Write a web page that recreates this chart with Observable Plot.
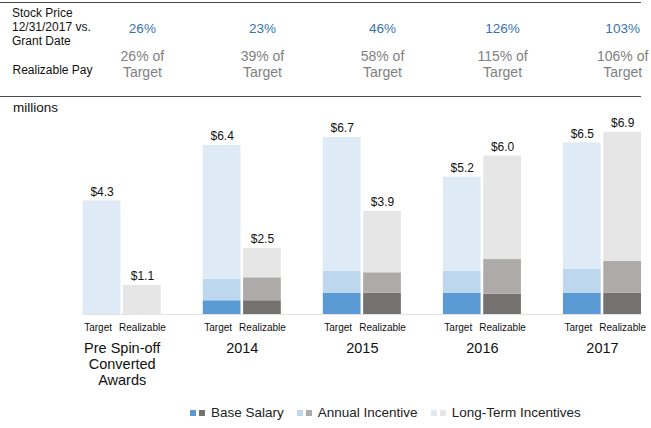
<!DOCTYPE html>
<html>
<head>
<meta charset="utf-8">
<script src="https://cdn.jsdelivr.net/npm/d3@7"></script>
<script src="https://cdn.jsdelivr.net/npm/@observablehq/plot@0.6"></script>
<style>
  html, body { margin: 0; padding: 0; background: #fff; }
  body { font-family: "Liberation Sans", Arial, sans-serif; }
  #page { position: relative; width: 651px; height: 428px; overflow: hidden; }
  #chart { position: absolute; left: 0; top: 0; }
  .hline { position: absolute; left: 0; width: 641px; height: 0; border-top: 1.6px solid #4a4a4a; }
  .lab { position: absolute; color: #111; white-space: pre; }
  #legend { position: absolute; left: 190px; top: 405px; display: flex; align-items: center; font-size: 13.5px; color: #222; }
  .item { display: flex; align-items: center; margin-right: 13px; }
  .sw { width: 6px; height: 6px; display: inline-block; margin-right: 3px; }
  .item span.t { margin-left: 3px; }
</style>
</head>
<body>
<div id="page">
  <div id="chart"></div>
  <div class="hline" style="top:2px"></div>
  <div class="hline" style="top:96px"></div>
  <div class="lab" style="left:12px; top:6px; font-size:12px; line-height:14px;">Stock Price
12/31/2017 vs.
Grant Date</div>
  <div class="lab" style="left:12.5px; top:63px; font-size:12px; line-height:14px;">Realizable Pay</div>
  <div class="lab" style="left:13px; top:100px; font-size:13.5px; line-height:16px;">millions</div>
  <div id="legend"></div>
</div>
<script>
// ---- data ----
const groups = ["Pre Spin-off\nConverted\nAwards", "2014", "2015", "2016", "2017"];
const barTypes = ["Target", "Realizable"];
const components = ["Base Salary", "Annual Incentive", "Long-Term Incentives"];

const stockVsGrant = [26, 23, 46, 126, 103];      // % stock price 12/31/2017 vs grant date
const realizablePctOfTarget = [26, 39, 58, 115, 106];

const targetBase   = [0, 0.52, 0.81, 0.81, 0.81];
const targetAnnual = [0, 0.82, 0.83, 0.83, 0.91];
const targetLTI    = [4.3, 5.06, 5.06, 3.56, 4.78];
const targetTotal  = [4.3, 6.4, 6.7, 5.2, 6.5];

const realBase     = [0, 0.52, 0.81, 0.77, 0.81];
const realAnnual   = [0, 0.87, 0.77, 1.31, 1.20];
const realLTI      = [1.1, 1.11, 2.32, 3.92, 4.89];
const realTotal    = [1.1, 2.5, 3.9, 6.0, 6.9];

const targetColors = ["#5b9bd5", "#bdd7ee", "#deebf7"];
const realColors   = ["#767171", "#aeaaaa", "#e7e6e6"];

// ---- build tables ----
const segments = [];
groups.forEach((g, i) => {
  [[targetBase, targetAnnual, targetLTI], [realBase, realAnnual, realLTI]].forEach((series, t) => {
    series.forEach((arr, c) => {
      segments.push({group: g, type: barTypes[t], component: components[c], key: barTypes[t] + "|" + components[c], value: arr[i]});
    });
  });
});
const totals = [];
groups.forEach((g, i) => {
  totals.push({group: g, type: "Target", total: targetTotal[i]});
  totals.push({group: g, type: "Realizable", total: realTotal[i]});
});
const colorDomain = [];
const colorRange = [];
barTypes.forEach((t, ti) => components.forEach((c, ci) => {
  colorDomain.push(t + "|" + c);
  colorRange.push((ti === 0 ? targetColors : realColors)[ci]);
}));

const font = "Liberation Sans, Arial, sans-serif";

const chart = Plot.plot({
  width: 651,
  height: 403,
  marginTop: 108,
  marginBottom: 89,
  marginLeft: 82.7,
  marginRight: 10,
  style: {fontFamily: font, background: "transparent", overflow: "visible"},
  fx: {domain: groups, paddingInner: 0.35, paddingOuter: 0, round: false, axis: null, label: null},
  x: {domain: barTypes, paddingInner: 0.064, paddingOuter: 0, round: false, axis: null, label: null},
  y: {domain: [0, 7.8], axis: null, label: null},
  color: {domain: colorDomain, range: colorRange},
  marks: [
    Plot.ruleY(groups.slice(0, 1), {fx: d => d, y: d => 0, stroke: "#e3e3e3", strokeWidth: 1}),
    Plot.ruleY(groups.slice(1), {fx: d => d, y: d => 0, stroke: "#e3e3e3", strokeWidth: 1, insetLeft: -42.5}),
    Plot.barY(segments, {fx: "group", x: "type", y: "value", z: "component", fill: "key", inset: 0}),
    Plot.text(totals, {fx: "group", x: "type", y: "total", text: d => "$" + d.total.toFixed(1), dy: -9, lineAnchor: "middle", fontSize: 12, fill: "#111"}),
    Plot.text(totals.filter(d => d.type === "Target"), {fx: "group", x: "type", y: d => 0, text: "type", dx: -4, dy: 13, lineAnchor: "middle", fontSize: 10, fill: "#111"}),
    Plot.text(totals.filter(d => d.type === "Realizable"), {fx: "group", x: "type", y: d => 0, text: "type", dy: 13, lineAnchor: "middle", fontSize: 10, fill: "#111"}),
    Plot.text(groups, {fx: d => d, frameAnchor: "bottom", text: d => d, lineAnchor: "top", dy: 27.6, lineHeight: 1.09, fontSize: 14.5, fill: "#111"}),
    Plot.text(groups, {fx: d => d, x: d => "Realizable", frameAnchor: "top", text: (d, i) => stockVsGrant[i] + "%", dy: -80, lineAnchor: "middle", fontSize: 13.5, fill: "#3474b3"}),
    Plot.text(groups, {fx: d => d, x: d => "Realizable", frameAnchor: "top", text: (d, i) => realizablePctOfTarget[i] + "% of\nTarget", dy: -45, lineAnchor: "middle", lineHeight: 1.15, fontSize: 14, fill: "#7f7f7f"})
  ]
});
document.getElementById("chart").appendChild(chart);

// ---- legend ----
const legend = document.getElementById("legend");
components.forEach((c, i) => {
  const item = document.createElement("div");
  item.className = "item";
  item.innerHTML = `<span class="sw" style="background:${targetColors[i]}"></span><span class="sw" style="background:${realColors[i]}"></span><span class="t">${c}</span>`;
  legend.appendChild(item);
});
</script>
</body>
</html>
